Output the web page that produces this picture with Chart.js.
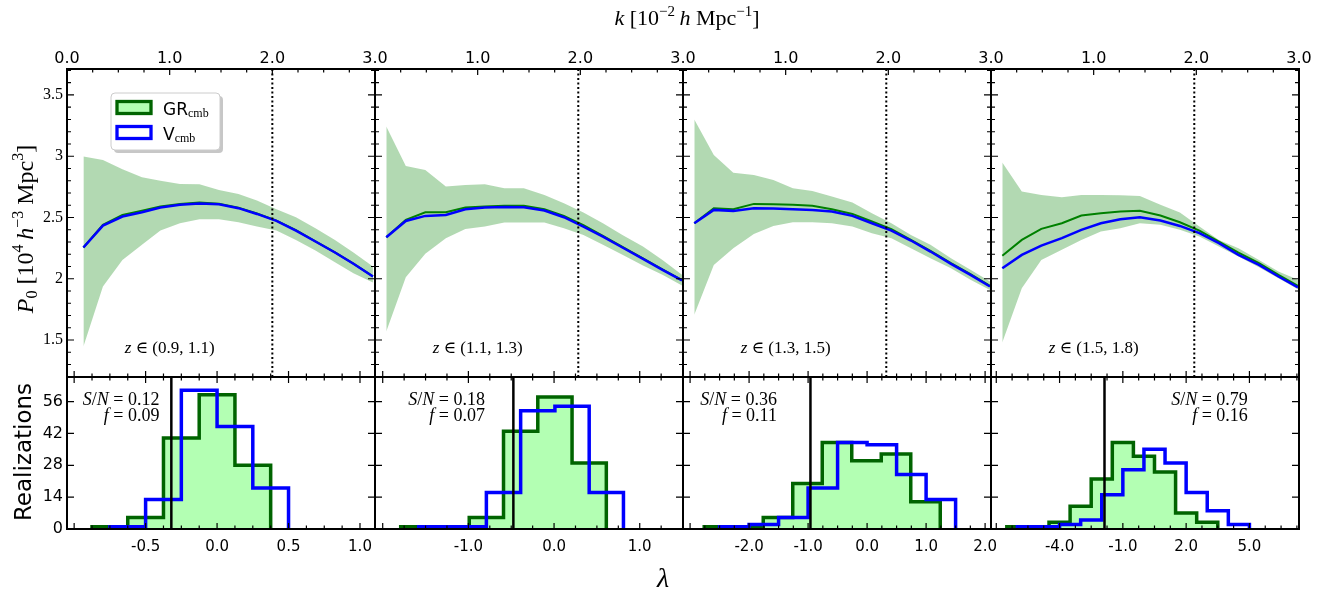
<!DOCTYPE html>
<html>
<head>
<meta charset="utf-8">
<script src="https://cdn.jsdelivr.net/npm/chart.js@4.4.0/dist/chart.umd.min.js"></script>
<style>
  body { margin: 0; background: #fff; }
  #fig { position: relative; width: 1329px; height: 594px; }
  #fig canvas { position: absolute; left: 0; top: 0; }
</style>
</head>
<body>
<div id="fig"></div>
<script>
const SERIF = '"Liberation Serif", "DejaVu Serif", serif';
const SANS = '"DejaVu Sans", sans-serif';

// ---- power spectrum monopole, k in 1e-2 h/Mpc ----
const kBinsZ1 = [0.16, 0.35, 0.54, 0.73, 0.91, 1.10, 1.29, 1.48, 1.67, 1.85, 2.04, 2.23, 2.42, 2.61, 2.79, 2.98];
const kBins = [0.11, 0.30, 0.49, 0.69, 0.88, 1.07, 1.26, 1.45, 1.65, 1.84, 2.03, 2.22, 2.41, 2.61, 2.80, 2.99];

const grP0z1 = [2.255, 2.440, 2.521, 2.556, 2.589, 2.611, 2.622, 2.612, 2.580, 2.532, 2.475, 2.396, 2.306, 2.216, 2.124, 2.020];
const vP0z1  = [2.255, 2.434, 2.508, 2.543, 2.581, 2.603, 2.614, 2.608, 2.576, 2.529, 2.472, 2.393, 2.304, 2.214, 2.122, 2.018];
const hiP0z1 = [2.997, 2.970, 2.894, 2.828, 2.800, 2.774, 2.771, 2.725, 2.692, 2.638, 2.567, 2.502, 2.412, 2.317, 2.214, 2.100];
const loP0z1 = [1.447, 1.937, 2.154, 2.277, 2.393, 2.453, 2.486, 2.486, 2.461, 2.426, 2.393, 2.317, 2.230, 2.135, 2.045, 1.969];

const grP0z2 = [2.339, 2.480, 2.543, 2.543, 2.581, 2.589, 2.595, 2.595, 2.567, 2.513, 2.437, 2.350, 2.260, 2.166, 2.076, 1.988];
const vP0z2  = [2.339, 2.472, 2.513, 2.521, 2.567, 2.581, 2.586, 2.584, 2.557, 2.502, 2.426, 2.344, 2.255, 2.162, 2.073, 1.986];
const hiP0z2 = [3.242, 2.921, 2.888, 2.752, 2.766, 2.771, 2.739, 2.739, 2.684, 2.616, 2.540, 2.453, 2.358, 2.263, 2.154, 2.032];
const loP0z2 = [1.570, 2.013, 2.203, 2.331, 2.407, 2.426, 2.459, 2.459, 2.459, 2.412, 2.358, 2.277, 2.195, 2.108, 2.032, 1.945];

const grP0z3 = [2.453, 2.576, 2.567, 2.611, 2.608, 2.603, 2.595, 2.567, 2.529, 2.467, 2.404, 2.317, 2.228, 2.127, 2.038, 1.942];
const vP0z3  = [2.453, 2.562, 2.554, 2.576, 2.573, 2.567, 2.562, 2.548, 2.513, 2.453, 2.393, 2.312, 2.222, 2.122, 2.032, 1.937];
const hiP0z3 = [3.300, 3.010, 2.866, 2.847, 2.807, 2.739, 2.717, 2.671, 2.622, 2.535, 2.453, 2.358, 2.277, 2.168, 2.073, 1.977];
const loP0z3 = [1.706, 2.113, 2.249, 2.366, 2.431, 2.461, 2.461, 2.453, 2.426, 2.372, 2.331, 2.249, 2.168, 2.086, 1.991, 1.909];

const grP0z4 = [2.187, 2.317, 2.407, 2.453, 2.516, 2.535, 2.548, 2.554, 2.516, 2.461, 2.393, 2.304, 2.214, 2.127, 2.032, 1.942];
const vP0z4  = [2.086, 2.195, 2.271, 2.331, 2.399, 2.453, 2.486, 2.502, 2.475, 2.431, 2.372, 2.290, 2.195, 2.113, 2.018, 1.929];
const hiP0z4 = [2.948, 2.712, 2.684, 2.665, 2.684, 2.684, 2.682, 2.676, 2.603, 2.540, 2.426, 2.317, 2.249, 2.154, 2.059, 1.991];
const loP0z4 = [1.480, 1.923, 2.154, 2.236, 2.317, 2.385, 2.412, 2.453, 2.440, 2.399, 2.344, 2.263, 2.181, 2.094, 2.005, 1.915];

const kCut = [2.0, 1.98, 1.98, 1.98];
const zBins = ['(0.9, 1.1)', '(1.1, 1.3)', '(1.3, 1.5)', '(1.5, 1.8)'];

// ---- lambda histograms ----
const grEdges1 = [-0.875, -0.625, -0.375, -0.125, 0.125, 0.375];
const grCounts1 = [1, 5, 40, 59, 28];
const vEdges1 = [-0.75, -0.5, -0.25, 0, 0.25, 0.5];
const vCounts1 = [1, 13, 61, 45, 18];

const grEdges2 = [-1.79, -1.39, -0.99, -0.59, -0.19, 0.21, 0.61];
const grCounts2 = [1, 1, 5, 43, 58, 29];
const vEdges2 = [-1.58, -1.18, -0.79, -0.39, 0.01, 0.41, 0.81];
const vCounts2 = [1, 1, 16, 52, 54, 16];

const grEdges3 = [-2.76, -2.26, -1.76, -1.26, -0.76, -0.26, 0.24, 0.74, 1.24];
const grCounts3 = [1, 1, 5, 20, 38, 30, 33, 12];
const vEdges3 = [-2.5, -2.0, -1.5, -1.0, -0.5, 0, 0.5, 1.0, 1.5];
const vCounts3 = [1, 2, 5, 18, 38, 37, 24, 13];

const grEdges4 = [-6.5, -5.5, -4.5, -3.5, -2.5, -1.5, -0.5, 0.5, 1.5, 2.5, 3.5];
const grCounts4 = [1, 1, 3, 10, 22, 38, 32, 25, 7, 3];
const vEdges4 = [-6, -5, -4, -3, -2, -1, 0, 1, 2, 3, 4, 5];
const vCounts4 = [1, 1, 2, 4, 15, 26, 35, 29, 16, 8, 2];

const lambdaTrue = [-0.32, -0.475, -0.96, -1.87];
const snr = ['0.12', '0.18', '0.36', '0.79'];
const fFrac = ['0.09', '0.07', '0.11', '0.16'];

// ---- axes ----
const K_MIN = 0, K_MAX = 3, K_MAJOR = [0, 1, 2, 3], K_MINOR = 0.25;
const P0_MIN = 1.198, P0_MAX = 3.712, P0_MAJOR = [1.5, 2, 2.5, 3, 3.5], P0_MINOR = 0.1;
const N_MAX = 66.8, N_MAJOR = [0, 14, 28, 42, 56];
const lamRange = [[-1.05, 1.105], [-2.09, 1.505], [-3.12, 2.10], [-7.25, 7.35]];
const lamMajor = [[-1, -0.5, 0, 0.5, 1], [-2, -1, 0, 1], [-3, -2, -1, 0, 1, 2], [-7, -4, -1, 2, 5]];
const lamMinor = [0.125, 0.25, 0.25, 0.75];

// ---- layout (pixels) ----
const FIG_W = 1329, FIG_H = 594;
const COL_X = [67, 375, 683, 991, 1299];
const TOP_Y = 69, MID_Y = 377, BOT_Y = 529;
const AXIS_BOX = 40;
const SN_X = [0.30, 0.357, 0.305, 0.834];

const panelK = [kBinsZ1, kBins, kBins, kBins];
const panelGr = [grP0z1, grP0z2, grP0z3, grP0z4];
const panelV = [vP0z1, vP0z2, vP0z3, vP0z4];
const panelHi = [hiP0z1, hiP0z2, hiP0z3, hiP0z4];
const panelLo = [loP0z1, loP0z2, loP0z3, loP0z4];
const histGr = [[grEdges1, grCounts1], [grEdges2, grCounts2], [grEdges3, grCounts3], [grEdges4, grCounts4]];
const histV = [[vEdges1, vCounts1], [vEdges2, vCounts2], [vEdges3, vCounts3], [vEdges4, vCounts4]];

Chart.defaults.font.family = SANS;
Chart.defaults.color = '#000';

function pts(xs, ys) {
    return xs.map((x, i) => ({ x, y: ys[i] }));
}

function stepPts(edges, counts) {
    const out = [{ x: edges[0], y: 0 }];
    counts.forEach((c, i) => {
        out.push({ x: edges[i], y: c }, { x: edges[i + 1], y: c });
    });
    out.push({ x: edges[edges.length - 1], y: 0 });
    return out;
}

function tickList(min, max, majors, step) {
    const out = [];
    let v = majors[0];
    while (v - step >= min - 1e-9) v -= step;
    for (; v <= max + 1e-9; v += step) out.push(Math.round(v * 1e4) / 1e4);
    return out;
}

function isMajor(v, majors) {
    return majors.some(m => Math.abs(m - v) < 1e-6);
}

function drawRich(ctx, parts, x, y, align) {
    let w = 0;
    parts.forEach(p => { ctx.font = p[1]; w += ctx.measureText(p[0]).width; });
    let cx = align === 'center' ? x - w / 2 : (align === 'right' ? x - w : x);
    ctx.textAlign = 'left';
    ctx.textBaseline = 'alphabetic';
    parts.forEach(p => {
        ctx.font = p[1];
        ctx.fillText(p[0], cx, y + (p[2] || 0));
        cx += ctx.measureText(p[0]).width;
    });
}

function axesDecor(o) {
    return {
        id: 'axesDecor',
        afterDatasetsDraw(chart) {
            const { ctx, chartArea: a } = chart;
            const sx = chart.scales.x, sy = chart.scales.y;
            ctx.save();
            ctx.strokeStyle = '#000';
            ctx.lineWidth = 1.2;
            ctx.beginPath();
            sx.ticks.forEach(t => {
                const px = sx.getPixelForValue(t.value);
                const len = isMajor(t.value, o.xMajor) ? 6 : 3.5;
                if (o.xTop) {
                    ctx.moveTo(px, a.top - (o.xTop === 'both' ? len : 0));
                    ctx.lineTo(px, a.top + len);
                }
                if (o.xBottom) {
                    ctx.moveTo(px, a.bottom);
                    ctx.lineTo(px, a.bottom - len);
                }
            });
            sy.ticks.forEach(t => {
                const py = sy.getPixelForValue(t.value);
                const len = isMajor(t.value, o.yMajor) ? 7 : 4;
                ctx.moveTo(a.left, py); ctx.lineTo(a.left + len, py);
                ctx.moveTo(a.right, py); ctx.lineTo(a.right - len, py);
            });
            ctx.stroke();
            ctx.lineWidth = 2;
            ctx.strokeRect(a.left, a.top, a.right - a.left, a.bottom - a.top);
            ctx.fillStyle = '#000';
            if (o.text) o.text(chart, ctx, a);
            ctx.restore();
        }
    };
}

function makeCanvas() {
    const c = document.createElement('canvas');
    c.width = FIG_W;
    c.height = FIG_H;
    document.getElementById('fig').appendChild(c);
    return c;
}

function drawFigureLabels(ctx, a) {
    // top k axis title
    drawRich(ctx, [
        ['k', `italic 22px ${SERIF}`], [' [10', `22px ${SERIF}`], ['\u22122', `15px ${SERIF}`, -9],
        ['\u2009', `22px ${SERIF}`], ['h', `italic 22px ${SERIF}`], [' Mpc', `22px ${SERIF}`],
        ['\u22121', `15px ${SERIF}`, -9], [']', `22px ${SERIF}`]
    ], 687, 25, 'center');

    // P0 label
    ctx.save();
    ctx.translate(33, 229);
    ctx.rotate(-Math.PI / 2);
    drawRich(ctx, [
        ['P', `italic 24px ${SERIF}`], ['0', `16px ${SERIF}`, 4], [' [10', `24px ${SERIF}`],
        ['4', `16px ${SERIF}`, -10], ['\u2009', `24px ${SERIF}`], ['h', `italic 24px ${SERIF}`],
        ['\u22123', `16px ${SERIF}`, -10], [' Mpc', `24px ${SERIF}`], ['3', `16px ${SERIF}`, -10],
        [']', `24px ${SERIF}`]
    ], 0, 0, 'center');
    ctx.restore();

    // legend
    const lx = a.left + 44, ly = a.top + 24, lw = 109, lh = 57;
    ctx.fillStyle = 'rgba(0,0,0,0.22)';
    ctx.beginPath(); ctx.roundRect(lx + 3, ly + 3, lw, lh, 4); ctx.fill();
    ctx.fillStyle = '#fff';
    ctx.strokeStyle = '#cccccc';
    ctx.lineWidth = 1;
    ctx.beginPath(); ctx.roundRect(lx, ly, lw, lh, 4); ctx.fill(); ctx.stroke();

    ctx.lineWidth = 3.3;
    ctx.fillStyle = '#b3ffb3';
    ctx.strokeStyle = '#006400';
    ctx.fillRect(lx + 6, ly + 8.5, 34, 12);
    ctx.strokeRect(lx + 6, ly + 8.5, 34, 12);
    ctx.fillStyle = '#fff';
    ctx.strokeStyle = '#0000ff';
    ctx.fillRect(lx + 6, ly + 33.5, 34, 12);
    ctx.strokeRect(lx + 6, ly + 33.5, 34, 12);

    ctx.fillStyle = '#000';
    drawRich(ctx, [['GR', `17px ${SANS}`], ['cmb', `12px ${SERIF}`, 2]], lx + 52, ly + 22, 'left');
    drawRich(ctx, [['V', `17px ${SANS}`], ['cmb', `12px ${SERIF}`, 2]], lx + 52, ly + 47, 'left');
}

function drawHistLabels(ctx) {
    ctx.save();
    ctx.translate(31, 452);
    ctx.rotate(-Math.PI / 2);
    ctx.font = `23px ${SANS}`;
    ctx.textAlign = 'center';
    ctx.textBaseline = 'alphabetic';
    ctx.fillText('Realizations', 0, 0);
    ctx.restore();

    ctx.font = `italic 28px ${SERIF}`;
    ctx.textAlign = 'center';
    ctx.textBaseline = 'alphabetic';
    ctx.fillText('\u03bb', 663, 587);
}

// ---- top row: P0(k) ----
const kTicks = tickList(K_MIN, K_MAX, K_MAJOR, K_MINOR);
const p0Ticks = tickList(P0_MIN, P0_MAX, P0_MAJOR, P0_MINOR);

for (let i = 0; i < 4; i++) {
    const first = i === 0;
    new Chart(makeCanvas(), {
        type: 'line',
        data: {
            datasets: [
                { data: pts(panelK[i], panelHi[i]), fill: '+1', backgroundColor: 'rgba(0,128,0,0.3)',
                  borderColor: 'rgba(0,0,0,0)', borderWidth: 0, pointRadius: 0, order: 4 },
                { data: pts(panelK[i], panelLo[i]), fill: false, borderColor: 'rgba(0,0,0,0)',
                  borderWidth: 0, pointRadius: 0, order: 3 },
                { data: pts(panelK[i], panelGr[i]), fill: false, borderColor: '#008000',
                  borderWidth: 2, pointRadius: 0, order: 2 },
                { data: pts(panelK[i], panelV[i]), fill: false, borderColor: '#0000ff',
                  borderWidth: 2.5, pointRadius: 0, order: 1 },
                { data: [{ x: kCut[i], y: P0_MIN }, { x: kCut[i], y: P0_MAX }], fill: false,
                  borderColor: '#000', borderWidth: 2, borderDash: [2, 2.5], pointRadius: 0, order: 0 }
            ]
        },
        options: {
            responsive: false,
            animation: false,
            events: [],
            layout: {
                padding: {
                    left: COL_X[i] - (first ? AXIS_BOX : 0),
                    right: FIG_W - COL_X[i + 1],
                    top: TOP_Y - AXIS_BOX,
                    bottom: FIG_H - MID_Y
                }
            },
            plugins: { legend: { display: false }, tooltip: { enabled: false } },
            scales: {
                x: {
                    type: 'linear', position: 'top', min: K_MIN, max: K_MAX,
                    grid: { display: false, drawTicks: false }, border: { display: false },
                    afterBuildTicks: ax => { ax.ticks = kTicks.map(v => ({ value: v })); },
                    afterFit: ax => { ax.height = AXIS_BOX; },
                    ticks: {
                        autoSkip: false, maxRotation: 0, minRotation: 0, padding: 1,
                        font: { family: SANS, size: 16 },
                        callback: (v, idx) => (!first && idx === 0) ? '' : (isMajor(v, K_MAJOR) ? v.toFixed(1) : '')
                    }
                },
                y: {
                    type: 'linear', position: 'left', min: P0_MIN, max: P0_MAX,
                    grid: { display: false, drawTicks: false }, border: { display: false },
                    afterBuildTicks: ax => { ax.ticks = p0Ticks.map(v => ({ value: v })); },
                    afterFit: ax => { ax.width = first ? AXIS_BOX : 0; },
                    ticks: {
                        display: first, autoSkip: false, padding: 4,
                        font: { family: SERIF, size: 16 },
                        callback: v => isMajor(v, P0_MAJOR) ? String(v) : ''
                    }
                }
            }
        },
        plugins: [axesDecor({
            xMajor: K_MAJOR, yMajor: P0_MAJOR, xTop: true, xBottom: false,
            text: (chart, ctx, a) => {
                const px = chart.scales.x.getPixelForValue(1.0);
                const py = chart.scales.y.getPixelForValue(1.39);
                drawRich(ctx, [['z', `italic 17px ${SERIF}`], [' \u2208 ', `17px ${SERIF}`], [zBins[i], `17px ${SERIF}`]],
                    px, py, 'center');
                if (first) drawFigureLabels(ctx, a);
            }
        })]
    });
}

// ---- bottom row: lambda histograms ----
for (let i = 0; i < 4; i++) {
    const first = i === 0;
    const lamTicks = tickList(lamRange[i][0], lamRange[i][1], lamMajor[i], lamMinor[i]);
    new Chart(makeCanvas(), {
        type: 'line',
        data: {
            datasets: [
                { data: stepPts(histGr[i][0], histGr[i][1]), fill: 'origin', backgroundColor: '#b3ffb3',
                  borderColor: '#006400', borderWidth: 3.5, pointRadius: 0, borderJoinStyle: 'miter', order: 2 },
                { data: stepPts(histV[i][0], histV[i][1]), fill: false,
                  borderColor: '#0000ff', borderWidth: 3.5, pointRadius: 0, borderJoinStyle: 'miter', order: 1 },
                { data: [{ x: lambdaTrue[i], y: 0 }, { x: lambdaTrue[i], y: N_MAX }], fill: false,
                  borderColor: '#000', borderWidth: 2.5, pointRadius: 0, order: 0 }
            ]
        },
        options: {
            responsive: false,
            animation: false,
            events: [],
            layout: {
                padding: {
                    left: COL_X[i] - (first ? AXIS_BOX : 0),
                    right: FIG_W - COL_X[i + 1],
                    top: MID_Y,
                    bottom: FIG_H - BOT_Y - AXIS_BOX
                }
            },
            plugins: { legend: { display: false }, tooltip: { enabled: false } },
            scales: {
                x: {
                    type: 'linear', position: 'bottom', min: lamRange[i][0], max: lamRange[i][1],
                    grid: { display: false, drawTicks: false }, border: { display: false },
                    afterBuildTicks: ax => { ax.ticks = lamTicks.map(v => ({ value: v })); },
                    afterFit: ax => { ax.height = AXIS_BOX; },
                    ticks: {
                        autoSkip: false, maxRotation: 0, minRotation: 0, padding: 9,
                        font: { family: SANS, size: 15 },
                        callback: v => (isMajor(v, lamMajor[i]) && Math.abs(v - lamMajor[i][0]) > 1e-6)
                            ? v.toFixed(1) : ''
                    }
                },
                y: {
                    type: 'linear', position: 'left', min: 0, max: N_MAX,
                    grid: { display: false, drawTicks: false }, border: { display: false },
                    afterBuildTicks: ax => { ax.ticks = N_MAJOR.map(v => ({ value: v })); },
                    afterFit: ax => { ax.width = first ? AXIS_BOX : 0; },
                    ticks: {
                        display: first, autoSkip: false, padding: 4,
                        font: { family: SANS, size: 16 },
                        callback: v => String(v)
                    }
                }
            }
        },
        plugins: [axesDecor({
            xMajor: lamMajor[i], yMajor: N_MAJOR, xTop: 'both', xBottom: true,
            text: (chart, ctx, a) => {
                const rx = a.left + SN_X[i] * (a.right - a.left);
                drawRich(ctx, [['S', `italic 18px ${SERIF}`], ['/', `18px ${SERIF}`], ['N', `italic 18px ${SERIF}`],
                    [' = ' + snr[i], `18px ${SERIF}`]], rx, a.top + 28, 'right');
                drawRich(ctx, [['f', `italic 18px ${SERIF}`], [' = ' + fFrac[i], `18px ${SERIF}`]], rx, a.top + 44, 'right');
                if (first) drawHistLabels(ctx);
            }
        })]
    });
}
</script>
</body>
</html>
